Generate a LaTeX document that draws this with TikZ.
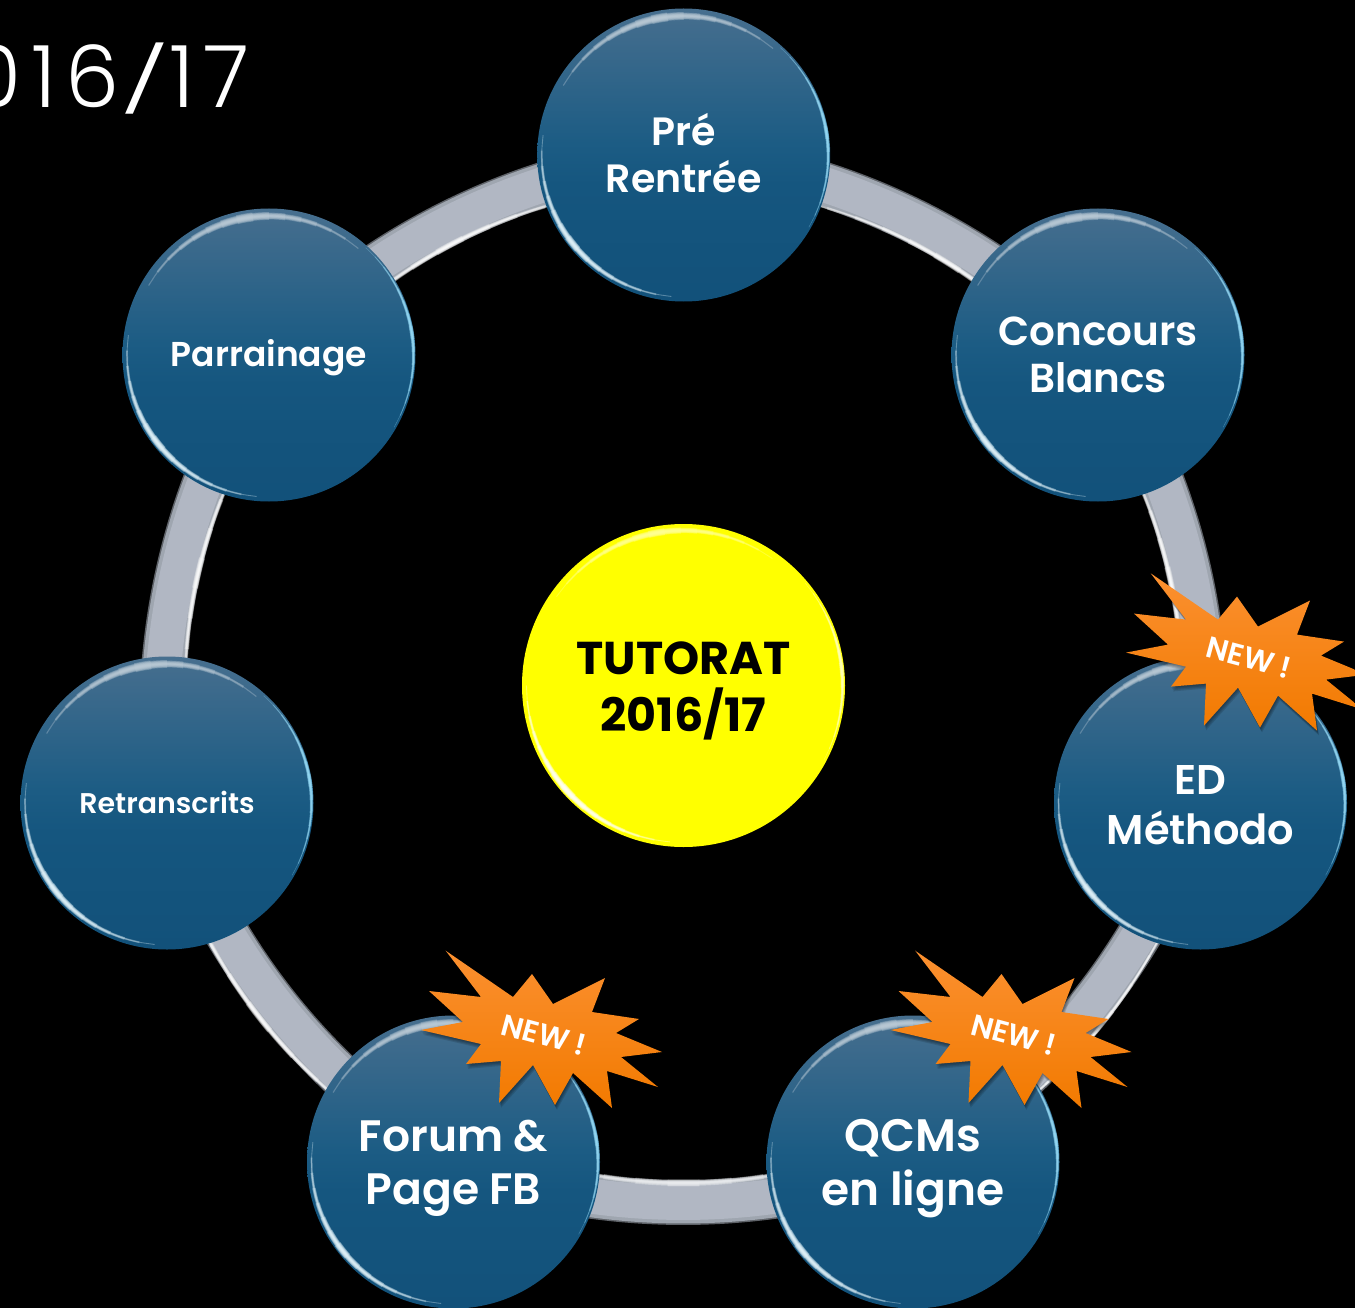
\documentclass[tikz,border=0pt]{standalone}
\usepackage{fontspec}
\setmainfont{Poppins}[BoldFont={Poppins SemiBold}]
\newfontfamily\lightfont{Poppins Light}[LetterSpace=11]
\newfontfamily\heavyfont{Poppins}[UprightFont={* Bold}]
\usetikzlibrary{backgrounds}
\definecolor{bandA}{HTML}{5E6268}
\definecolor{bandB}{HTML}{9FA6B0}
\definecolor{bandC}{HTML}{B1B7C3}
\definecolor{TopB}{HTML}{476F8F}
\definecolor{UpB}{HTML}{416C8D}
\definecolor{MidB}{HTML}{1C5C84}
\definecolor{LowB}{HTML}{15567F}
\definecolor{BotB}{HTML}{12517A}
\definecolor{sunY}{HTML}{FFFF00}
\definecolor{burstT}{HTML}{FB9030}
\definecolor{burstM}{HTML}{FF860F}
\definecolor{burstB}{HTML}{F27A00}
\pgfdeclareverticalshading[BotB,LowB,MidB,UpB,TopB]{discshade}{100bp}{
  color(0bp)=(BotB);
  color(25bp)=(BotB);
  color(45bp)=(LowB);
  color(52bp)=(MidB);
  color(72bp)=(UpB);
  color(75bp)=(TopB);
  color(100bp)=(TopB)}
\tikzset{
  x=1pt,y=-1pt,
  disc/.style={circle,inner sep=0pt,minimum size=293pt,shading=discshade},
  lab/.style={inner sep=0pt,align=center,text=white,font=\bfseries},
  sun/.style={circle,inner sep=0pt,minimum size=323pt,fill=sunY},
  band/.style={draw=bandA,line width=45pt,
    postaction={draw=bandB,line width=42pt},
    postaction={draw=bandC,line width=35pt}},
  link/.style={bend left=20,looseness=.88},
}
% tapered fading arc: centre is the current origin
\newcommand\fadearc[6]{% a1,a2,r,colour,width,steps
  \foreach \k in {0,...,#6}{
    \pgfmathsetmacro\sa{#1+(#2-#1)*\k/(2*#6+1)}
    \pgfmathsetmacro\sb{#2-(#2-#1)*\k/(2*#6+1)}
    \pgfmathsetmacro\wd{#5*(\k+1)/(#6+1)}
    \draw[#4,line width=\wd pt,opacity=.33]
      plot[domain=\sa:\sb,samples=14,smooth] ({#3*cos(\x)},{#3*sin(\x)});
  }}
\newcommand\burstpath{(445.7,950.7) -- (513,997) -- (532,974) -- (553,1004) -- (605,978) -- (592,1012)
  -- (639,1019) -- (616,1033) -- (662,1052) -- (621,1057) -- (658,1087) -- (607,1071) -- (612,1108)
  -- (573,1073) -- (555,1105) -- (533,1065) -- (499,1103) -- (501,1061) -- (466,1064) -- (481,1044)
  -- (421,1030) -- (463,1022) -- (429,991) -- (481,997) -- cycle}
\newcommand\burst[3]{%
  \begin{scope}[shift={(#2,#3)}]
    \foreach \o in {1,2,3,4}{\fill[black,opacity=.12,shift={(.5*\o,1.2*\o)}] \burstpath;}
    \shade[top color=burstT,middle color=burstM,bottom color=burstB] \burstpath;
    \node[text=white,font=\bfseries\fontsize{30}{32}\selectfont,rotate=-15,inner sep=0pt] (#1) at (544,1035) {NEW !};
  \end{scope}}
\begin{document}
\begin{tikzpicture}
\useasboundingbox (0,0) rectangle (1355,1308);
\node[disc] (pre) at (683.7,155) {};
\node[disc] (con) at (1098,355) {};
\node[disc] (ed) at (1200.5,803) {};
\node[disc] (qcm) at (913,1162) {};
\node[disc] (forum) at (453.5,1162) {};
\node[disc] (ret) at (167,803) {};
\node[disc] (par) at (269,355) {};
\node[sun] (tut) at (683.5,685.5) {};
\node[text=white,font=\lightfont\fontsize{86}{90}\selectfont,anchor=east,inner sep=0pt] (title) at (250,79) {016\raisebox{3.5pt}{\scalebox{1.3}[.75]{/}}17};
\begin{scope}[on background layer]
  \fill[black] (0,0) rectangle (1355,1308);
  \draw[band] (pre.center) to[link] (con.center);
  \draw[band] (con.center) to[link] (ed.center);
  \draw[band] (ed.center) to[link] (qcm.center);
  \draw[band] (qcm.center) to[link] (forum.center);
  \draw[band] (forum.center) to[link] (ret.center);
  \draw[band] (ret.center) to[link] (par.center);
  \draw[band] (par.center) to[link] (pre.center);
  \begin{scope}[shift={(683.5,685)}]
    \fadearc{-80}{-36}{498}{white}{6}{6}
    \fadearc{-34}{10}{498}{white}{6}{6}
    \fadearc{16}{62}{539}{white}{4}{6}
    \fadearc{66}{114}{498}{white!80!bandC}{7}{6}
    \fadearc{118}{166}{539}{white}{6}{6}
    \fadearc{170}{216}{498}{white}{6}{6}
    \fadearc{220}{264}{498}{white}{6}{6}
  \end{scope}
\end{scope}
\foreach \n in {pre,con,ed,qcm,forum,ret,par}{
  \begin{scope}[shift={(\n.center)}]
    \fadearc{-150}{-50}{139}{TopB!35!white}{9}{7}
    \fadearc{95}{188}{142}{cyan!10!white}{7}{7}
    \fadearc{-48}{30}{144.5}{cyan!40!white}{4}{7}
  \end{scope}
}
\begin{scope}[shift={(tut.center)}]
  \fadearc{-145}{-55}{155}{sunY!40!white}{7}{7}
  \fadearc{95}{180}{157}{white}{7}{7}
  \fadearc{-40}{28}{159}{sunY!25!white}{4}{7}
\end{scope}
\node[lab,font=\bfseries\fontsize{39.5}{47.5}\selectfont] (preT) at (683.7,153) {Pré\\Rentrée};
\node[lab,font=\bfseries\fontsize{40.5}{47}\selectfont] (conT) at (1098,355) {Concours\\Blancs};
\node[lab,font=\bfseries\fontsize{41.5}{50}\selectfont] (edT) at (1200.5,805) {ED\\Méthodo};
\node[lab,font=\bfseries\fontsize{45.5}{53.5}\selectfont] (qcmT) at (913,1168.5) {QCMs\\en ligne};
\node[lab,font=\bfseries\fontsize{44}{53.5}\selectfont] (forumT) at (453.5,1168.5) {Forum \&\\Page FB};
\node[lab,font=\bfseries\fontsize{28.5}{34}\selectfont] (retT) at (167,802) {Retranscrits};
\node[lab,font=\bfseries\fontsize{34.5}{40}\selectfont] (parT) at (269,358) {Parrainage};
\node[lab,text=black,font=\heavyfont\fontsize{46}{57}\selectfont] (tutT) at (683.5,690.5) {TUTORAT\\2016/17};
\burst{newb}{0}{0}
\burst{newc}{469.5}{0}
\burst{newa}{705}{-377.4}
\end{tikzpicture}
\end{document}
